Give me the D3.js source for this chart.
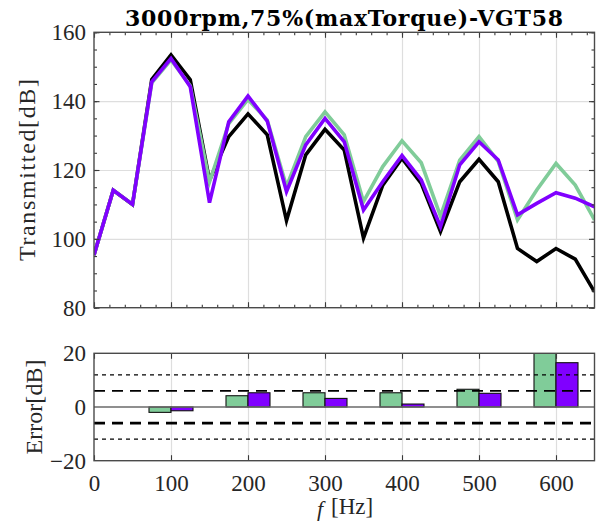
<!DOCTYPE html>
<meta charset="utf-8">
<style>
body { margin: 0; background: #fff; }
text { fill: #262626; font-family: "Liberation Serif", serif; }
.grid line { stroke: #dedede; stroke-width: 1.2; }
.grid path, .tk path { display: none; }
.tk line { stroke: #3a3a3a; stroke-width: 1.1; }
.frame { fill: none; stroke: #4a4a4a; stroke-width: 1.4; }
</style>
<body>
<svg width="596" height="530"></svg>
<script src="https://d3js.org/d3.v7.min.js"></script>
<script>

// spectrum, 25 Hz steps
var freq = [0, 25, 50, 75, 100, 125, 150, 175, 200, 225, 250, 275, 300, 325, 350,
            375, 400, 425, 450, 475, 500, 525, 550, 575, 600, 625, 650];
var measured = [95.3, 114.1, 110, 146.3, 153.4, 146.2, 117, 129.7, 136.3, 130.2, 105.3, 124.4, 131.8, 125.8, 100.2,
                115.6, 123.4, 116.1, 102.1, 116.6, 123.1, 116.6, 97.2, 93.4, 97.2, 94.1, 84.6];
var modelA = [95.3, 114.1, 110, 145.3, 152, 144.5, 116.5, 133.5, 140.5, 134.5, 115.2, 129.7, 136.9, 130.2, 110.8,
              121, 128.5, 122.1, 106.6, 122.9, 129.7, 122.5, 105.5, 114.2, 121.9, 115.6, 105.5];
var modelB = [95.3, 114.1, 110, 145.6, 152.4, 144.2, 110.5, 134, 141.5, 134.2, 113.7, 127.3, 135, 128.2, 108.4,
              116.6, 124.2, 117.1, 103.5, 121.5, 128.2, 122.9, 107, 110.3, 113.4, 111.8, 109.3];

// error at the harmonics
var errFreq = [100, 200, 300, 400, 500, 600];
var errA = [-2.0, 4.2, 5.3, 5.3, 6.6, 24.7];
var errB = [-1.4, 5.3, 3.2, 1.1, 5.1, 16.5];

var xTicks = [0, 100, 200, 300, 400, 500, 600];
var yTicksTop = [80, 100, 120, 140, 160];
var yTicksBot = [-20, 0, 20];

var green = "#80cc99", purple = "#8000ff";

var svg = d3.select("svg"),
    left = 94,
    w = 500.5,
    top1 = 32.3, h1 = 275.4,
    top2 = 353.3, h2 = 107.4;

var x = d3.scaleLinear().domain([0, 650]).range([0, w]);
var y = d3.scaleLinear().domain([80, 160]).range([h1, 0]);
var y2 = d3.scaleLinear().domain([-20, 20]).range([h2, 0]);

svg.append("defs").append("clipPath").attr("id", "clip1")
    .append("rect").attr("width", w).attr("height", h1);
svg.select("defs").append("clipPath").attr("id", "clip2")
    .append("rect").attr("width", w).attr("height", h2);

function ticks(g, axis, t) {
    g.append("g").attr("class", "tk").attr("transform", t || null).call(axis);
}

// ---------- top panel ----------
var g1 = svg.append("g").attr("transform", "translate(" + left + "," + top1 + ")");

g1.append("g").attr("class", "grid")
    .attr("transform", "translate(0," + h1 + ")")
    .call(d3.axisBottom(x).tickValues(xTicks.slice(1)).tickSize(-h1).tickFormat(""));
g1.append("g").attr("class", "grid")
    .call(d3.axisLeft(y).tickValues([100, 120, 140]).tickSize(-w).tickFormat(""));

var line = d3.line()
    .x(function (d, i) { return x(freq[i]); })
    .y(function (d) { return y(d); });

var plot = g1.append("g").attr("clip-path", "url(#clip1)");
[[measured, "#000"], [modelA, green], [modelB, purple]].forEach(function (s) {
    plot.append("path")
        .datum(s[0])
        .attr("d", line)
        .attr("fill", "none")
        .attr("stroke", s[1])
        .attr("stroke-width", 3.6)
        .attr("stroke-linejoin", "miter");
});

var minorX = d3.range(0, 651, 20), minorY = d3.range(80, 161, 5);
ticks(g1, d3.axisBottom(x).tickValues(minorX).tickSize(-3).tickFormat(""), "translate(0," + h1 + ")");
ticks(g1, d3.axisBottom(x).tickValues(xTicks).tickSize(-5.5).tickFormat(""), "translate(0," + h1 + ")");
ticks(g1, d3.axisTop(x).tickValues(minorX).tickSize(-3).tickFormat(""));
ticks(g1, d3.axisTop(x).tickValues(xTicks).tickSize(-5.5).tickFormat(""));
ticks(g1, d3.axisRight(y).tickValues(minorY).tickSize(-3).tickFormat(""), "translate(" + w + ",0)");
ticks(g1, d3.axisRight(y).tickValues(yTicksTop).tickSize(-5.5).tickFormat(""), "translate(" + w + ",0)");
ticks(g1, d3.axisLeft(y).tickValues(minorY).tickSize(-3).tickFormat(""));
ticks(g1, d3.axisLeft(y).tickValues(yTicksTop).tickSize(-5.5).tickPadding(8));

g1.append("rect").attr("class", "frame").attr("width", w).attr("height", h1);

// ---------- bottom panel ----------
var g2 = svg.append("g").attr("transform", "translate(" + left + "," + top2 + ")");

g2.append("g").attr("class", "grid")
    .attr("transform", "translate(0," + h2 + ")")
    .call(d3.axisBottom(x).tickValues(xTicks.slice(1)).tickSize(-h2).tickFormat(""));

var bars = g2.append("g").attr("clip-path", "url(#clip2)");
var bw = 100 * 2 / 3.5 / 2;   // matlab grouped bar width

bars.selectAll("rect.a")
    .data(errA)
    .enter().append("rect")
    .attr("class", "a")
    .attr("x", function (d, i) { return x(errFreq[i] - bw); })
    .attr("width", x(bw) - x(0))
    .attr("y", function (d) { return y2(Math.max(d, 0)); })
    .attr("height", function (d) { return Math.abs(y2(d) - y2(0)); })
    .attr("fill", green).attr("stroke", "#111").attr("stroke-width", 1.1);

bars.selectAll("rect.b")
    .data(errB)
    .enter().append("rect")
    .attr("class", "b")
    .attr("x", function (d, i) { return x(errFreq[i]); })
    .attr("width", x(bw) - x(0))
    .attr("y", function (d) { return y2(Math.max(d, 0)); })
    .attr("height", function (d) { return Math.abs(y2(d) - y2(0)); })
    .attr("fill", purple).attr("stroke", "#111").attr("stroke-width", 1.1);

// tolerance bands
var limits = [
    {v: 12, dash: "4,4", sw: 1.2},
    {v: 6, dash: "11,7", sw: 1.6},
    {v: -6, dash: "11,7", sw: 2.8},
    {v: -12, dash: "4,4", sw: 1.2}
];
limits.forEach(function (l) {
    g2.append("line")
        .attr("x1", 0).attr("x2", w)
        .attr("y1", y2(l.v)).attr("y2", y2(l.v))
        .attr("stroke", "#000")
        .attr("stroke-width", l.sw)
        .attr("stroke-dasharray", l.dash);
});
g2.append("line")
    .attr("x1", 0).attr("x2", w)
    .attr("y1", y2(0)).attr("y2", y2(0))
    .attr("stroke", "#6a6a6a").attr("stroke-width", 1.4);

ticks(g2, d3.axisBottom(x).tickValues(xTicks).tickSize(-5.5).tickPadding(14), "translate(0," + h2 + ")");
ticks(g2, d3.axisTop(x).tickValues(xTicks).tickSize(-5.5).tickFormat(""));
ticks(g2, d3.axisLeft(y2).tickValues(yTicksBot).tickSize(0).tickPadding(8));

g2.append("rect").attr("class", "frame").attr("width", w).attr("height", h2);

svg.selectAll(".tk text").style("font-size", "23px").style("font-family", "Liberation Serif");

// ---------- labels ----------
svg.append("text")
    .attr("x", 344).attr("y", 26)
    .attr("text-anchor", "middle")
    .attr("textLength", 438)
    .style("font-family", "DejaVu Serif")
    .style("font-weight", "bold")
    .style("font-size", "22px")
    .style("fill", "#000")
    .text("3000rpm,75%(maxTorque)-VGT58");

svg.append("text")
    .attr("transform", "translate(35,170) rotate(-90)")
    .attr("text-anchor", "middle")
    .attr("textLength", 182)
    .style("font-size", "24px")
    .text("Transmitted[dB]");

svg.append("text")
    .attr("transform", "translate(42,407) rotate(-90)")
    .attr("text-anchor", "middle")
    .attr("textLength", 95)
    .style("font-size", "24px")
    .text("Error[dB]");

svg.append("text")
    .attr("x", 317).attr("y", 516)
    .style("font-size", "22px")
    .style("font-style", "italic")
    .text("f");
svg.append("text")
    .attr("x", 331).attr("y", 514)
    .style("font-size", "23px")
    .text("[Hz]");

</script>
</body>
